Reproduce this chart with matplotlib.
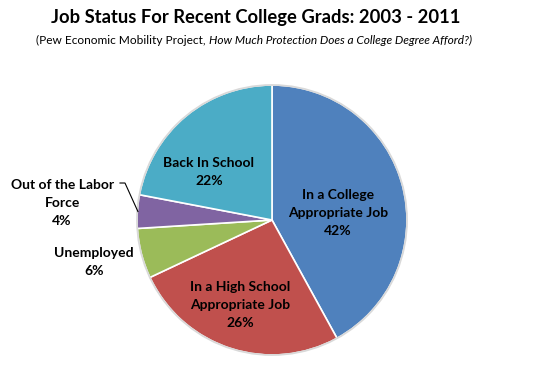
import numpy as np
import matplotlib
matplotlib.use('Agg')
import matplotlib.pyplot as plt

# data
labels = ['In a College\nAppropriate Job', 'In a High School\nAppropriate Job',
          'Unemployed', 'Out of the Labor\nForce', 'Back In School']
shares = [42, 26, 6, 4, 22]
colors = ['#4F81BD', '#C0504D', '#9BBB59', '#8064A2', '#4BACC6']

# label placement: radius (fraction of pie radius) and angle tweak (deg)
label_r = [0.49, 0.67, 1.355, 1.56, 0.585]
label_dang = [-8.4, -2.6, -1.1, -1.0, 13.4]

W, H = 551, 371
fig = plt.figure(figsize=(W / 100, H / 100), dpi=100)
fig.patch.set_facecolor('white')

cx, cy, R = 272, H - 220, 135
ax = fig.add_axes([(cx - R) / W, (cy - R) / H, 2 * R / W, 2 * R / H])

wedges, _ = ax.pie(shares, colors=colors, startangle=90, counterclock=False,
                   radius=1, wedgeprops=dict(edgecolor='white', linewidth=1.2))
ax.set_xlim(-1, 1)
ax.set_ylim(-1, 1)
ax.set_aspect('equal')
ax.axis('off')
circ = plt.Circle((0, 0), 1.0, fill=False, edgecolor='#d9d9d9', linewidth=1.3,
                  clip_on=False)
ax.add_patch(circ)

font = 'Lato'
for w, lab, v, r, da in zip(wedges, labels, shares, label_r, label_dang):
    mid = np.deg2rad((w.theta1 + w.theta2) / 2 + da)
    x, y = r * np.cos(mid), r * np.sin(mid)
    ax.text(x, y, f'{lab}\n{v}%', ha='center', va='center', fontsize=10,
            fontweight='bold', family=font, linespacing=1.6, color='black')

# leader line for the small purple slice
w = wedges[3]
mid = np.deg2rad((w.theta1 + w.theta2) / 2)
ex, ey = 0.995 * np.cos(mid), 0.995 * np.sin(mid)
ax.plot([ex, -1.089, -1.126], [ey, 0.274, 0.274], color='black', lw=0.8,
        clip_on=False)

# title
fig.text(256 / W, 1 - 17 / H, 'Job Status For Recent College Grads: 2003 - 2011',
         ha='center', va='center', fontsize=13.2, fontweight='bold', family=font)
t1 = fig.text(36 / W, 1 - 40 / H, '(Pew Economic Mobility Project, ', ha='left',
              va='center', fontsize=8.6, family=font)
ax.annotate('How Much Protection Does a College Degree Afford?)', xy=(1, 0),
            xycoords=t1, ha='left', va='bottom', fontsize=8.6, family=font,
            style='italic', annotation_clip=False)

fig.savefig('out.png', dpi=100, facecolor='white')
